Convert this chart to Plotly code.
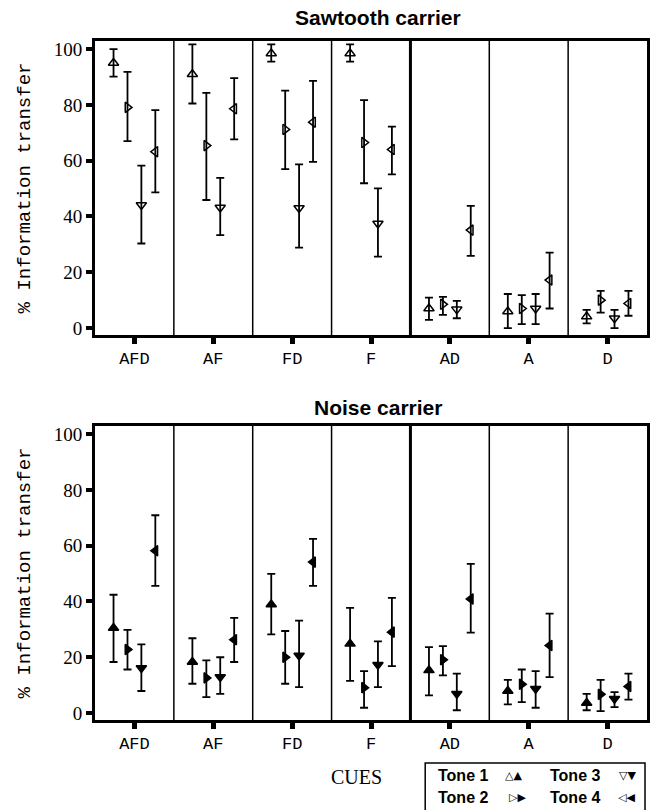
import plotly.graph_objects as go

cues = ["AFD", "AF", "FD", "F", "AD", "A", "D"]
tones = ["Tone 1", "Tone 2", "Tone 3", "Tone 4"]

# Sawtooth carrier: mean, lower and upper error-bar ends per tone
saw_mean_t1 = [95.0, 91.0, 98.4, 98.4, 7.0, 5.9, 4.1]
saw_low_t1 = [90.1, 80.5, 95.5, 95.5, 2.9, 0.0, 1.7]
saw_high_t1 = [100.0, 101.7, 101.7, 101.7, 10.9, 12.2, 6.5]

saw_mean_t2 = [79.1, 65.4, 71.2, 66.5, 8.5, 7.0, 10.0]
saw_low_t2 = [67.0, 45.9, 57.0, 51.9, 4.7, 1.4, 5.5]
saw_high_t2 = [91.8, 84.3, 85.1, 81.7, 11.2, 11.8, 13.3]

saw_mean_t3 = [44.1, 43.2, 43.0, 37.5, 6.7, 7.0, 3.5]
saw_low_t3 = [30.3, 33.3, 28.8, 25.6, 3.5, 1.4, 0.0]
saw_high_t3 = [58.2, 53.8, 58.7, 50.1, 9.7, 12.2, 6.5]

saw_mean_t4 = [63.2, 78.6, 73.8, 64.0, 35.1, 17.2, 8.8]
saw_low_t4 = [48.6, 67.6, 59.6, 55.1, 25.9, 7.0, 4.4]
saw_high_t4 = [78.1, 89.6, 88.6, 72.2, 43.8, 27.0, 13.3]

# Noise carrier
noi_mean_t1 = [30.5, 18.3, 38.9, 24.8, 15.3, 7.9, 3.6]
noi_low_t1 = [18.3, 10.5, 28.2, 11.5, 6.3, 3.1, 1.0]
noi_high_t1 = [42.4, 26.8, 49.9, 37.7, 23.6, 11.9, 6.9]

noi_mean_t2 = [22.8, 12.6, 20.0, 9.1, 19.1, 10.3, 6.7]
noi_low_t2 = [15.6, 5.7, 10.5, 1.9, 13.5, 3.9, 0.7]
noi_high_t2 = [29.8, 18.9, 29.4, 15.0, 24.0, 15.6, 11.9]

noi_mean_t3 = [16.1, 12.9, 20.6, 17.3, 6.9, 8.7, 5.1]
noi_low_t3 = [7.9, 6.9, 9.3, 9.3, 1.0, 1.9, 2.1]
noi_high_t3 = [24.6, 20.0, 33.1, 25.7, 14.1, 15.0, 7.5]

noi_mean_t4 = [58.2, 26.3, 54.1, 29.0, 40.9, 24.2, 9.5]
noi_low_t4 = [45.6, 18.3, 45.6, 16.8, 28.8, 12.9, 4.8]
noi_high_t4 = [70.9, 34.1, 62.4, 41.3, 53.5, 35.6, 14.1]

y_ticks = [0, 20, 40, 60, 80, 100]
tone_offsets = [-0.265, -0.088, 0.088, 0.265]
open_symbols = ["triangle-up-open", "triangle-right-open", "triangle-down-open", "triangle-left-open"]
filled_symbols = ["triangle-up", "triangle-right", "triangle-down", "triangle-left"]

saw = [(saw_mean_t1, saw_low_t1, saw_high_t1), (saw_mean_t2, saw_low_t2, saw_high_t2),
       (saw_mean_t3, saw_low_t3, saw_high_t3), (saw_mean_t4, saw_low_t4, saw_high_t4)]
noi = [(noi_mean_t1, noi_low_t1, noi_high_t1), (noi_mean_t2, noi_low_t2, noi_high_t2),
       (noi_mean_t3, noi_low_t3, noi_high_t3), (noi_mean_t4, noi_low_t4, noi_high_t4)]

W, H = 656, 810
ML, MR, MT, MB = 95, 6, 41, 90
PW, PH = W - ML - MR, H - MT - MB


def px(x, y):
    return (x - ML) / PW, (H - MB - y) / PH


fig = go.Figure()

for carrier, symbols, xa, ya in [(saw, open_symbols, "x", "y"), (noi, filled_symbols, "x2", "y2")]:
    for k, (mean, low, high) in enumerate(carrier):
        xs = [i + tone_offsets[k] for i in range(len(cues))]
        fig.add_trace(go.Scatter(
            x=xs, y=mean, mode="markers", xaxis=xa, yaxis=ya, name=tones[k], showlegend=False,
            marker=dict(symbol=symbols[k], size=9, color="black", line=dict(color="black", width=1.5)),
            error_y=dict(type="data", symmetric=False,
                         array=[h - m for h, m in zip(high, mean)],
                         arrayminus=[m - l for m, l in zip(mean, low)],
                         color="black", thickness=1.8, width=4),
        ))

y0_top, _ = 0, 0
dom_top = [px(0, 335)[1], 1.0]
dom_bot = [0.0, px(0, 426)[1]]

axis_common = dict(showline=True, linecolor="black", linewidth=3, mirror=True,
                   showgrid=False, zeroline=False, ticks="outside", tickcolor="black")
xfont = dict(family="Liberation Mono", size=17, color="black")
yfont = dict(family="Liberation Serif", size=19, color="black")

fig.update_layout(
    width=W, height=H, margin=dict(l=ML, r=MR, t=MT, b=MB),
    paper_bgcolor="white", plot_bgcolor="white",
    xaxis=dict(domain=[0, 1], anchor="y", range=[-0.5, 6.5], tickvals=list(range(7)), ticktext=cues,
               ticklen=6, tickwidth=5, tickfont=xfont, **axis_common),
    yaxis=dict(domain=dom_top, anchor="x", range=[-2.5, 102.9], tickvals=y_ticks,
               ticklen=6, tickwidth=4, tickfont=yfont, **axis_common),
    xaxis2=dict(domain=[0, 1], anchor="y2", range=[-0.5, 6.5], tickvals=list(range(7)), ticktext=cues,
                ticklen=6, tickwidth=5, tickfont=xfont, **axis_common),
    yaxis2=dict(domain=dom_bot, anchor="x2", range=[-2.5, 102.9], tickvals=y_ticks,
                ticklen=6, tickwidth=4, tickfont=yfont, **axis_common),
)

shapes = []
for xr, yr in [("x", "y"), ("x2", "y2")]:
    for b in [0.5, 1.5, 2.5, 3.5, 4.5, 5.5]:
        shapes.append(dict(type="line", xref=xr, yref=yr + " domain", x0=b, x1=b, y0=0, y1=1,
                           line=dict(color="black", width=3 if b == 3.5 else 1.5)))

lx0, ly0 = px(427, 811)
lx1, ly1 = px(648, 763)
shapes.append(dict(type="rect", xref="paper", yref="paper", x0=lx0, x1=lx1, y0=ly0, y1=ly1,
                   line=dict(color="black", width=1.5), fillcolor="white"))
fig.update_layout(shapes=shapes)

ann = []
tx, ty = px(380, 18)
ann.append(dict(text="<b>Sawtooth carrier</b>", x=tx, y=ty, xref="paper", yref="paper", showarrow=False,
                xanchor="center", yanchor="middle", font=dict(family="Liberation Sans", size=21, color="black")))
tx, ty = px(380, 407)
ann.append(dict(text="<b>Noise carrier</b>", x=tx, y=ty, xref="paper", yref="paper", showarrow=False,
                xanchor="center", yanchor="middle", font=dict(family="Liberation Sans", size=21, color="black")))
for cy in [188, 573]:
    tx, ty = px(25, cy)
    ann.append(dict(text="% Information transfer", x=tx, y=ty, xref="paper", yref="paper", showarrow=False,
                    textangle=-90, xanchor="center", yanchor="middle",
                    font=dict(family="Liberation Mono", size=19, color="black")))
tx, ty = px(358, 777)
ann.append(dict(text="CUES", x=tx, y=ty, xref="paper", yref="paper", showarrow=False,
                xanchor="center", yanchor="middle", font=dict(family="Liberation Serif", size=20, color="black")))

legend_items = [("Tone 1", "△▲", 438, 516, 775), ("Tone 3", "▽▼", 550, 630, 775),
                ("Tone 2", "▷▶", 438, 520, 797), ("Tone 4", "◁◀", 550, 629, 797)]
for label, glyph, lx, gx, ly in legend_items:
    ax_, ay_ = px(lx, ly)
    ann.append(dict(text="<b>" + label + "</b>", x=ax_, y=ay_, xref="paper", yref="paper", showarrow=False,
                    xanchor="left", yanchor="middle", font=dict(family="Liberation Sans", size=16, color="black")))
    gx_, gy_ = px(gx, ly)
    ann.append(dict(text=glyph, x=gx_, y=gy_, xref="paper", yref="paper", showarrow=False,
                    xanchor="center", yanchor="middle", font=dict(family="DejaVu Sans", size=11, color="black")))
fig.update_layout(annotations=ann)

fig.write_html("out.html")
